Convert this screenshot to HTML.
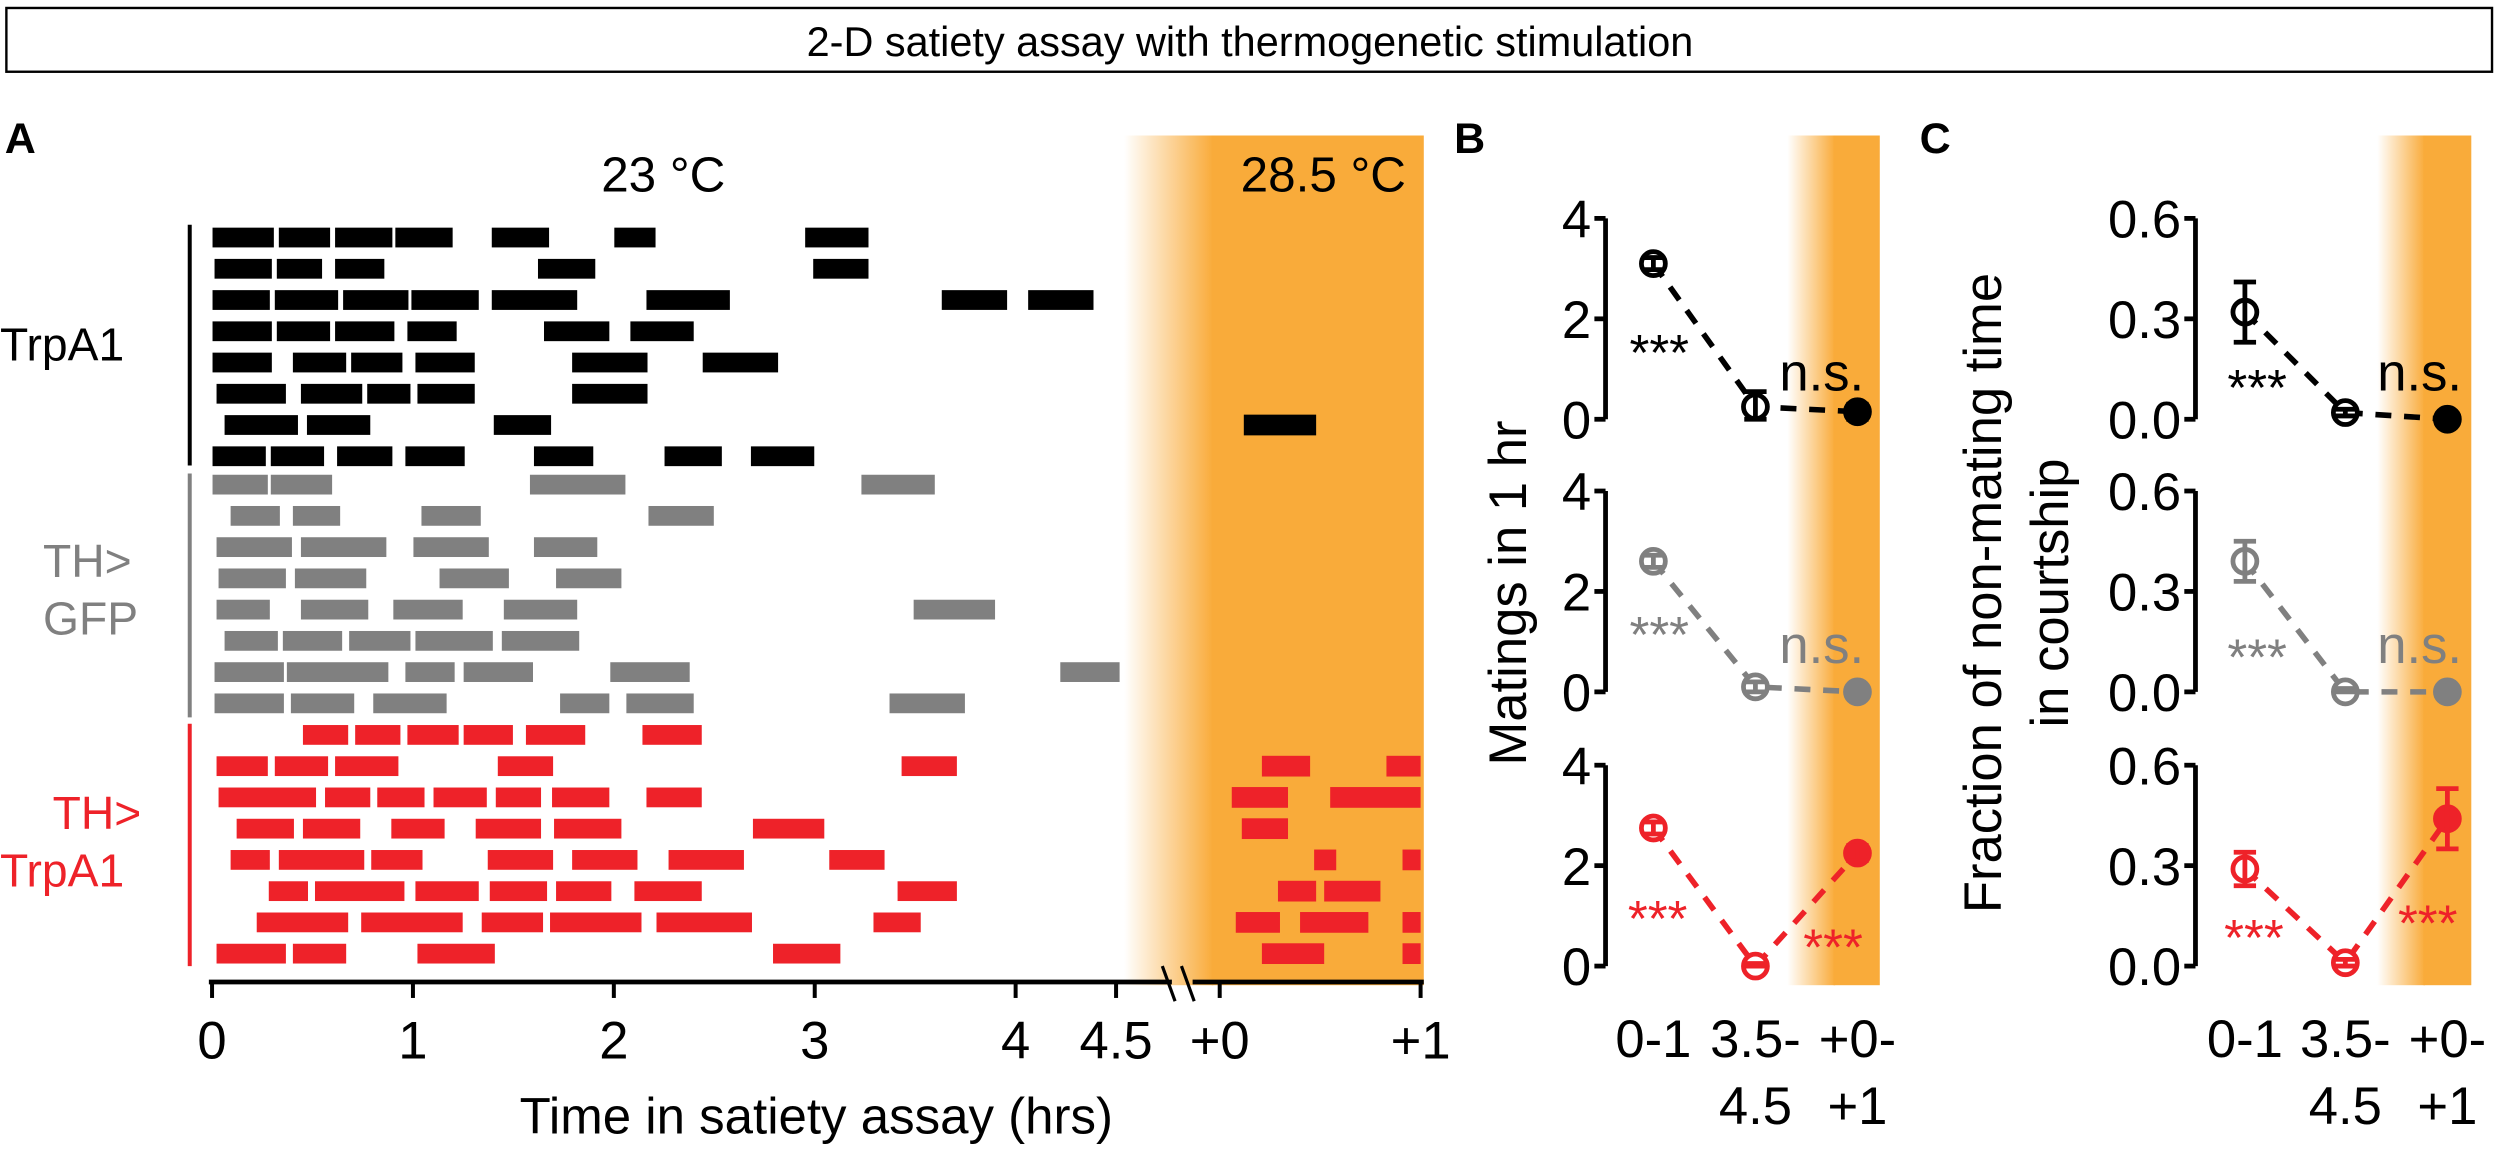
<!DOCTYPE html>
<html><head><meta charset="utf-8"><style>
html,body{margin:0;padding:0;background:#fff}
svg{display:block}
text{font-family:"Liberation Sans",Arial,sans-serif}
</style></head><body>
<svg id="fig" width="2500" height="1151" viewBox="0 0 1568 722" preserveAspectRatio="none" xmlns="http://www.w3.org/2000/svg">
<defs>
<linearGradient id="gA" x1="0" x2="1" y1="0" y2="0"><stop offset="0" stop-color="#f9ab3a" stop-opacity="0"/><stop offset="1" stop-color="#f9ab3a"/></linearGradient>
</defs>
<rect x="4" y="5" width="1559" height="40" fill="#fff" stroke="#000" stroke-width="1.5"/>
<text x="784" y="35" font-size="26" text-anchor="middle">2-D satiety assay with thermogenetic stimulation</text>
<text x="3" y="96" font-size="27" font-weight="bold">A</text>
<text x="912" y="96" font-size="27" font-weight="bold">B</text>
<text x="1204" y="96" font-size="27" font-weight="bold">C</text>
<g id="heatA">
<rect x="705" y="85" width="56" height="533" fill="url(#gA)"/><rect x="760" y="85" width="133" height="533" fill="#f9ab3a"/>
</g>
<g id="heatB">
<rect x="1121" y="85" width="30" height="533" fill="url(#gA)"/><rect x="1150" y="85" width="29" height="533" fill="#f9ab3a"/>
</g>
<g id="heatC">
<rect x="1491" y="85" width="30" height="533" fill="url(#gA)"/><rect x="1520" y="85" width="30" height="533" fill="#f9ab3a"/>
</g>
<text x="416" y="120" font-size="31" text-anchor="middle">23 °C</text>
<text x="830" y="120" font-size="31" text-anchor="middle">28.5 °C</text>
<line x1="119" y1="141" x2="119" y2="292" stroke="#000" stroke-width="2.5"/>
<line x1="119" y1="297" x2="119" y2="450" stroke="#808080" stroke-width="2.5"/>
<line x1="119" y1="454" x2="119" y2="606" stroke="#ee2229" stroke-width="2.5"/>
<text x="0" y="226" font-size="29">TrpA1</text>
<text font-size="29" fill="#808080"><tspan x="27" y="362">TH&gt;</tspan><tspan x="27" y="398">GFP</tspan></text>
<text font-size="29" fill="#ee2229"><tspan x="33" y="520">TH&gt;</tspan><tspan x="0" y="556">TrpA1</tspan></text>
<g id="raster"></g>
<g id="axisA"></g>
<text x="512" y="711" font-size="32" text-anchor="middle">Time in satiety assay (hrs)</text>
<text transform="translate(957,372) rotate(-90)" font-size="33" text-anchor="middle">Matings in 1 hr</text>
<text transform="translate(1255,372) rotate(-90)" font-size="33" text-anchor="middle">Fraction of non-mating time</text>
<text transform="translate(1297,372) rotate(-90)" font-size="33" text-anchor="middle">in courtship</text>
<g id="panelB"></g>
<g id="panelC"></g>
</svg>
<script>
// ---- Panel A raster data (hours) ----
const rowsTrpA1 = [
 [[0,0.31],[0.33,0.59],[0.61,0.9],[0.91,1.2],[1.39,1.68],[2.0,2.21],[2.95,3.27]],
 [[0.01,0.3],[0.32,0.55],[0.61,0.86],[1.62,1.91],[2.99,3.27]],
 [[0,0.29],[0.31,0.63],[0.65,0.98],[0.99,1.33],[1.39,1.82],[2.16,2.58],[3.63,3.96],[4.06,4.39]],
 [[0,0.3],[0.32,0.59],[0.61,0.91],[0.97,1.22],[1.65,1.98],[2.08,2.4]],
 [[0,0.3],[0.4,0.67],[0.69,0.95],[1.01,1.31],[1.79,2.17],[2.44,2.82]],
 [[0.02,0.37],[0.44,0.75],[0.77,0.99],[1.02,1.31],[1.79,2.17]],
 [[0.06,0.43],[0.47,0.79],[1.4,1.69]],
 [[0,0.27],[0.29,0.56],[0.62,0.9],[0.96,1.26],[1.6,1.9],[2.25,2.54],[2.68,3.0]]
];
const postTrpA1 = [[],[],[],[],[],[],[[0.12,0.48]],[]];
const rowsGFP = [
 [[0,0.28],[0.29,0.6],[1.58,2.06],[3.23,3.6]],
 [[0.09,0.34],[0.4,0.64],[1.04,1.34],[2.17,2.5]],
 [[0.02,0.4],[0.44,0.87],[1.0,1.38],[1.6,1.92]],
 [[0.03,0.37],[0.41,0.77],[1.13,1.48],[1.71,2.04]],
 [[0.02,0.29],[0.44,0.78],[0.9,1.25],[1.45,1.82],[3.49,3.9]],
 [[0.06,0.33],[0.35,0.65],[0.68,0.99],[1.01,1.4],[1.44,1.83]],
 [[0.01,0.36],[0.37,0.88],[0.96,1.21],[1.25,1.6],[1.98,2.38],[4.22,4.52]],
 [[0.01,0.36],[0.39,0.71],[0.8,1.17],[1.73,1.98],[2.06,2.4],[3.37,3.75]]
];
const postGFP = [[],[],[],[],[],[],[],[]];
const rowsTH = [
 [[0.45,0.68],[0.71,0.94],[0.97,1.23],[1.25,1.5],[1.56,1.86],[2.14,2.44]],
 [[0.02,0.28],[0.31,0.58],[0.61,0.93],[1.42,1.7],[3.43,3.71]],
 [[0.03,0.52],[0.56,0.79],[0.82,1.06],[1.1,1.37],[1.41,1.64],[1.69,1.98],[2.16,2.44]],
 [[0.12,0.41],[0.45,0.74],[0.89,1.16],[1.31,1.64],[1.7,2.04],[2.69,3.05]],
 [[0.09,0.29],[0.33,0.76],[0.79,1.05],[1.37,1.7],[1.79,2.12],[2.27,2.65],[3.07,3.35]],
 [[0.28,0.48],[0.51,0.96],[1.01,1.33],[1.38,1.67],[1.71,1.99],[2.1,2.44],[3.41,3.71]],
 [[0.22,0.68],[0.74,1.25],[1.34,1.65],[1.68,2.14],[2.21,2.69],[3.29,3.53]],
 [[0.02,0.37],[0.4,0.67],[1.02,1.41],[2.79,3.13]]
];
const postTH = [[],[[0.21,0.45],[0.83,1.0]],[[0.06,0.34],[0.55,1.0]],[[0.11,0.34]],[[0.47,0.58],[0.91,1.0]],[[0.29,0.48],[0.52,0.8]],[[0.08,0.3],[0.4,0.74],[0.91,1.0]],[[0.21,0.52],[0.91,1.0]]];
const preTicks = [0,1,2,3,4,4.5];
const preTickLabels = ["0","1","2","3","4","4.5"];
const postTicks = [0,1];
const postTickLabels = ["+0","+1"];

// ---- Panel B / C data ----
const groupsBC = ["0-1","3.5-4.5","+0-+1"];
const matTrpA1 = [3.1,0.25,0.15], matTrpA1Err=[0.12,0.3,0.15];
const matGFP = [2.6,0.1,0.0], matGFPErr=[0.12,0.1,0.05];
const matTH = [2.75,0.0,2.25], matTHErr=[0.12,0.05,0.15];
const fracTrpA1=[0.32,0.02,0.0], fracTrpA1Err=[0.09,0.01,0.01];
const fracGFP=[0.39,0.0,0.0], fracGFPErr=[0.06,0.01,0.01];
const fracTH=[0.29,0.01,0.44], fracTHErr=[0.05,0.01,0.09];
const ticksB=[0,2,4], ticksC=[0,0.3,0.6];

const NS="http://www.w3.org/2000/svg";
function mk(parent,tag,attrs){const e=document.createElementNS(NS,tag);for(const k in attrs)e.setAttribute(k,attrs[k]);parent.appendChild(e);return e;}
const xPre = h => 133 + 126*h;
const xPost = h => 765 + 126*h;

const raster=document.getElementById('raster');
function drawGroup(rows,post,y0,color,name){
  rows.forEach((r,i)=>{
    const yc=y0+i*19.6;
    r.forEach(b=>{
      const e=mk(raster,'rect',{x:xPre(b[0]),y:yc-6.5,width:xPre(b[1])-xPre(b[0]),height:13,fill:color,stroke:'#fff','stroke-width':0.6});
      
      
    });
    post[i].forEach(b=>{
      const e=mk(raster,'rect',{x:xPost(b[0]),y:yc-6.5,width:xPost(b[1])-xPost(b[0]),height:13,fill:color,stroke:'none'});
      
      
    });
  });
}
drawGroup(rowsTrpA1,postTrpA1,149,'#000','trpa1');
drawGroup(rowsGFP,postGFP,304,'#808080','th-gfp');
drawGroup(rowsTH,postTH,461,'#ee2229','th-trpa1');

const ax=document.getElementById('axisA');
mk(ax,'line',{x1:131,y1:616,x2:735,y2:616,stroke:'#000','stroke-width':3});
mk(ax,'line',{x1:748,y1:616,x2:893,y2:616,stroke:'#000','stroke-width':3});
mk(ax,'line',{x1:729,y1:606,x2:737,y2:628,stroke:'#000','stroke-width':2});
mk(ax,'line',{x1:741,y1:606,x2:749,y2:628,stroke:'#000','stroke-width':2});
preTicks.forEach((t,i)=>{
  mk(ax,'line',{x1:xPre(t),y1:616,x2:xPre(t),y2:626,stroke:'#000','stroke-width':2.5});
  const tx=mk(ax,'text',{x:xPre(t),y:664,'font-size':33,'text-anchor':'middle'});tx.textContent=preTickLabels[i];
  
  
});
postTicks.forEach((t,i)=>{
  mk(ax,'line',{x1:xPost(t),y1:616,x2:xPost(t),y2:626,stroke:'#000','stroke-width':2.5});
  const tx=mk(ax,'text',{x:xPost(t),y:664,'font-size':33,'text-anchor':'middle'});tx.textContent=postTickLabels[i];
  
  
});

function drawPanel(gid,axX,xs,tickVals,tickFmt,vmax,series,stars){
  const g=document.getElementById(gid);
  const tops=[137,308,480], h=126;
  series.forEach((s,si)=>{
    const top=tops[si];
    const y=v=>top+h-(v/vmax)*h;
    mk(g,'line',{x1:axX,y1:top,x2:axX,y2:top+h,stroke:'#000','stroke-width':3});
    tickVals.forEach(t=>{
      mk(g,'line',{x1:axX-7,y1:y(t),x2:axX,y2:y(t),stroke:'#000','stroke-width':3});
      const tx=mk(g,'text',{x:axX-9,y:y(t)+12,'font-size':33,'text-anchor':'end'});tx.textContent=tickFmt(t);
      
      
    });
    const pts=s.vals.map((v,i)=>[xs[i],y(v)]);
    const ln=mk(g,'polyline',{points:pts.map(p=>p.join(',')).join(' '),fill:'none',stroke:s.color,'stroke-width':3.5,'stroke-dasharray':'10,8'});
    
    
    s.vals.forEach((v,i)=>{
      const e=s.err[i];
      const c=mk(g,'circle',{cx:xs[i],cy:y(v),r:7.5,fill:i==2?s.color:'#fff',stroke:s.color,'stroke-width':3});
      
      
      mk(g,'line',{x1:xs[i],y1:y(v+e),x2:xs[i],y2:y(Math.max(0,v-e)),stroke:s.color,'stroke-width':3});
      mk(g,'line',{x1:xs[i]-7,y1:y(v+e),x2:xs[i]+7,y2:y(v+e),stroke:s.color,'stroke-width':3});
      mk(g,'line',{x1:xs[i]-7,y1:y(Math.max(0,v-e)),x2:xs[i]+7,y2:y(Math.max(0,v-e)),stroke:s.color,'stroke-width':3});
    });
    stars[si].forEach(st=>{
      const tx=mk(g,'text',{x:st[0],y:top+st[1],'font-size':st[2]==='n.s.'?33:32,fill:s.color});tx.textContent=st[2];
      
      
    });
  });
  xs.forEach((x,i)=>{
    const parts=groupsBC[i]==="3.5-4.5"?["3.5-","4.5"]:groupsBC[i]==="+0-+1"?["+0-","+1"]:[groupsBC[i]];
    parts.forEach((p,j)=>{
      const tx=mk(g,'text',{x:x,y:663+j*42,'font-size':33,'text-anchor':'middle'});tx.textContent=p;
      
      
    });
  });
}
drawPanel('panelB',1007,[1037,1101,1165],ticksB,t=>String(t),4,
 [{vals:matTrpA1,err:matTrpA1Err,color:'#000',name:'trpa1'},
  {vals:matGFP,err:matGFPErr,color:'#808080',name:'th-gfp'},
  {vals:matTH,err:matTHErr,color:'#ee2229',name:'th-trpa1'}],
 [[[1022,95,'***'],[1116,108,'n.s.']],[[1022,101,'***'],[1116,108,'n.s.']],[[1021,107,'***'],[1131,125,'***']]]);
drawPanel('panelC',1377,[1408,1471,1535],ticksC,t=>t.toFixed(1),0.6,
 [{vals:fracTrpA1,err:fracTrpA1Err,color:'#000',name:'trpa1'},
  {vals:fracGFP,err:fracGFPErr,color:'#808080',name:'th-gfp'},
  {vals:fracTH,err:fracTHErr,color:'#ee2229',name:'th-trpa1'}],
 [[[1397,117,'***'],[1491,108,'n.s.']],[[1397,115,'***'],[1491,108,'n.s.']],[[1395,119,'***'],[1504,110,'***']]]);
</script>
</body></html>
